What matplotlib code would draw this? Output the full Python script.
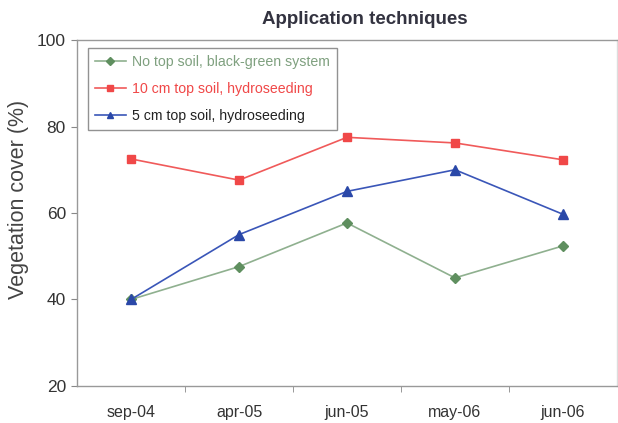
import numpy as np
import matplotlib.pyplot as plt

plt.rcParams['font.family'] = ['Liberation Sans', 'DejaVu Sans']

# Fechas de muestreo
dates = ['sep-04', 'apr-05', 'jun-05', 'may-06', 'jun-06']

# Cobertura vegetal [%] por tecnica
no_topsoil = [40, 47.6, 57.7, 45, 52.4]
topsoil_10 = [72.5, 67.6, 77.5, 76.2, 72.3]
topsoil_5 = [40, 55, 65, 70, 59.7]

x = np.arange(len(dates))

fig = plt.figure(figsize=(6.18, 4.23), dpi=100)
ax = fig.add_axes([0.1246, 0.0875, 0.8738, 0.8179])

ax.plot(x, no_topsoil, color='#8fb08f', marker='D', markersize=5,
        markerfacecolor='#5f8f5f', markeredgecolor='#5f8f5f', linewidth=1.2,
        label='No top soil, black-green system')
ax.plot(x, topsoil_10, color='#f05a5a', marker='s', markersize=6,
        markerfacecolor='#f04848', markeredgecolor='#f04848', linewidth=1.2,
        label='10 cm top soil, hydroseeding')
ax.plot(x, topsoil_5, color='#3a56b8', marker='^', markersize=7,
        markerfacecolor='#2a48a8', markeredgecolor='#2a48a8', linewidth=1.2,
        label='5 cm top soil, hydroseeding')

ax.set_xlim(-0.5, len(dates) - 0.5)
ax.set_ylim(20, 100)
ax.set_yticks([20, 40, 60, 80, 100])
ax.set_xticks(x)
ax.set_xticklabels(dates)
ax.set_xticks(x[:-1] + 0.5, minor=True)
ax.tick_params(axis='x', which='major', length=0, pad=14, labelsize=11.5, labelcolor='#333333')
ax.tick_params(axis='x', which='minor', length=4, color='#888888', direction='out')
ax.tick_params(axis='y', length=4, color='#888888', labelsize=12.5, labelcolor='#333333', pad=4)

for s in ax.spines.values():
    s.set_color('#999999')
    s.set_linewidth(1.0)
ax.spines['right'].set_color('#dddddd')

ax.set_ylabel('Vegetation cover (%)', fontsize=15.5, color='#444444')
ax.yaxis.set_label_coords(-0.088, 0.54)
fig.text(0.59, 0.955, 'Application techniques', ha='center', va='center',
         fontsize=13.5, fontweight='bold', color='#333340')

leg = ax.legend(loc='upper left', bbox_to_anchor=(0.02, 0.977), fontsize=10.2,
                frameon=True, fancybox=False, borderaxespad=0, handlelength=2.2,
                handletextpad=0.4, labelspacing=0.9, borderpad=0.5)
leg.get_frame().set_edgecolor('#777777')
leg.get_frame().set_linewidth(1.0)
text_colors = ['#7fa07f', '#f04848', '#222222']
for t, c in zip(leg.get_texts(), text_colors):
    t.set_color(c)
for h in leg.legend_handles:
    h.set_markersize(4)

fig.savefig('out.png', dpi=100)
